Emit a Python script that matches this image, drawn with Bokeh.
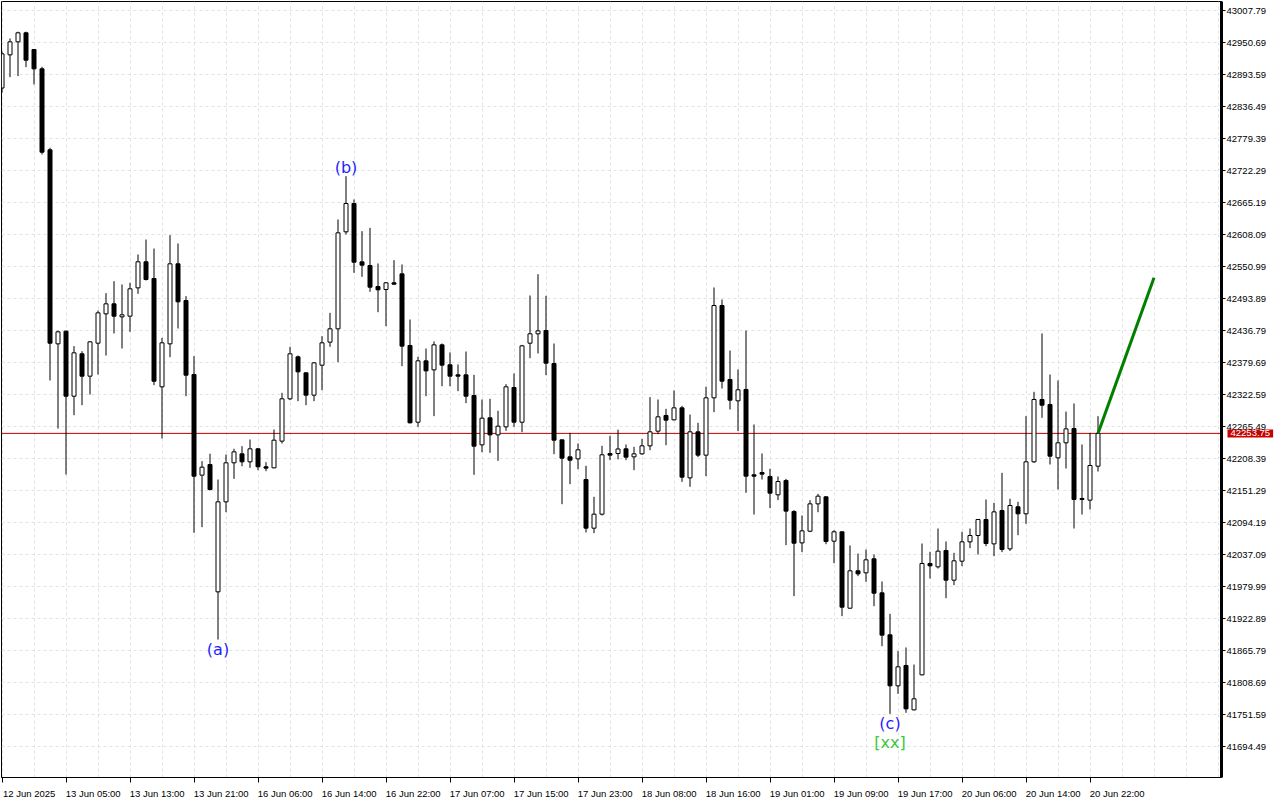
from bokeh.plotting import figure
from bokeh.models import FixedTicker, PrintfTickFormatter, Span, Label, ColumnDataSource, Range1d
from bokeh.core.properties import value
from bokeh.embed import file_html
from bokeh.resources import INLINE

# ---------------- data (H1 candles) ----------------
opens = [42870.0, 42929.2, 42952.4, 42968.5, 42938.7, 42904.2, 42759.7, 42413.5, 42436.1, 42320.1,
         42395.7, 42355.8, 42414.7, 42467.0, 42484.9, 42461.7, 42462.9, 42513.4, 42559.9, 42530.1,
         42336.8, 42413.5, 42556.3, 42490.8, 42358.8, 42179.2, 42198.2, 41971.0, 42131.6, 42201.2,
         42217.2, 42203.0, 42226.2, 42194.1, 42192.3, 42239.9, 42315.4, 42390.3, 42361.8, 42321.9,
         42375.4, 42416.5, 42440.3, 42613.4, 42663.9, 42559.8, 42553.3, 42515.8, 42510.5, 42522.4,
         42538.4, 42410.6, 42273.7, 42383.2, 42367.1, 42411.7, 42376.1, 42358.2, 42358.2, 42321.3,
         42233.3, 42281.5, 42251.1, 42265.4, 42335.6, 42273.7, 42414.7, 42431.4, 42437.3, 42378.4,
         42242.2, 42211.9, 42208.3, 42171.4, 42084.6, 42109.6, 42217.8, 42217.8, 42226.2, 42211.9,
         42217.2, 42231.5, 42257.7, 42285.7, 42277.9, 42299.3, 42174.4, 42256.5, 42214.9, 42317.2,
         42481.9, 42349.9, 42311.8, 42332.1, 42179.8, 42183.9, 42176.8, 42144.1, 42169.7, 42114.4,
         42058.4, 42079.2, 42128.0, 42140.5, 42061.4, 42078.1, 41941.8, 42008.5, 42004.9, 42029.9,
         41969.2, 41894.3, 41803.3, 41839.6, 41760.4, 41822.9, 42021.6, 42015.6, 42044.8, 41991.8,
         42025.7, 42060.2, 42071.5, 42100.1, 42056.6, 42116.1, 42047.7, 42122.7, 42110.2, 42203.0,
         42314.2, 42305.3, 42210.1, 42236.9, 42262.4, 42137.6, 42134.6, 42195.2]
highs = [42935.0, 42958.4, 42970.5, 42970.5, 42939.5, 42907.8, 42763.3, 42437.3, 42437.3, 42409.4,
         42400.4, 42418.0, 42473.0, 42504.0, 42525.3, 42519.4, 42522.4, 42573.0, 42599.7, 42583.6,
         42424.2, 42607.4, 42592.6, 42498.6, 42391.5, 42204.2, 42217.5, 42171.4, 42216.0, 42226.2,
         42230.9, 42242.8, 42227.5, 42202.4, 42260.7, 42326.1, 42408.2, 42392.7, 42362.5, 42380.5,
         42427.2, 42468.8, 42635.4, 42712.7, 42671.1, 42614.6, 42620.5, 42556.9, 42523.6, 42562.8,
         42555.1, 42456.9, 42390.3, 42405.2, 42417.7, 42414.1, 42398.1, 42376.7, 42399.8, 42358.2,
         42314.2, 42315.4, 42294.0, 42341.6, 42360.6, 42411.7, 42499.8, 42537.8, 42499.2, 42414.1,
         42243.0, 42254.7, 42235.7, 42195.8, 42140.5, 42231.5, 42249.4, 42260.4, 42233.9, 42229.7,
         42244.0, 42318.4, 42314.2, 42297.5, 42330.3, 42302.9, 42287.4, 42272.6, 42336.8, 42514.1,
         42492.6, 42401.6, 42367.7, 42437.3, 42269.6, 42217.8, 42190.5, 42176.8, 42172.6, 42116.7,
         42107.2, 42134.6, 42145.9, 42141.7, 42081.0, 42079.0, 42053.7, 42039.4, 42046.5, 42037.6,
         41989.4, 41931.7, 41865.2, 41871.7, 41841.3, 42057.2, 42042.4, 42084.0, 42060.8, 42040.6,
         42078.1, 42084.0, 42101.0, 42135.8, 42129.8, 42183.3, 42137.0, 42131.6, 42284.5, 42327.9,
         42432.0, 42358.8, 42348.1, 42292.6, 42307.1, 42233.9, 42254.7, 42284.5]
lows = [42862.0, 42889.4, 42891.2, 42907.2, 42876.3, 42751.4, 42348.1, 42262.4, 42180.3, 42286.2,
        42304.1, 42323.1, 42358.8, 42392.7, 42432.0, 42405.2, 42435.0, 42502.7, 42526.5, 42339.8,
        42244.6, 42389.7, 42440.9, 42320.1, 42076.3, 42086.4, 42151.8, 41885.9, 42113.1, 42172.6,
        42195.2, 42192.3, 42188.1, 42186.3, 42191.5, 42235.7, 42313.0, 42311.2, 42304.1, 42311.2,
        42330.8, 42408.2, 42380.8, 42608.6, 42540.2, 42533.1, 42506.3, 42470.0, 42445.1, 42518.8,
        42373.7, 42271.4, 42265.4, 42320.1, 42284.5, 42338.0, 42338.0, 42329.1, 42307.7, 42179.8,
        42220.2, 42219.0, 42204.7, 42258.3, 42265.4, 42255.9, 42387.9, 42396.3, 42357.6, 42216.6,
        42127.4, 42163.1, 42189.9, 42076.9, 42075.7, 42107.2, 42205.9, 42207.4, 42205.9, 42188.1,
        42215.5, 42223.8, 42252.3, 42232.7, 42277.0, 42167.3, 42158.4, 42211.3, 42177.4, 42291.6,
        42333.8, 42296.3, 42257.7, 42147.7, 42109.0, 42171.4, 42120.3, 42134.6, 42054.3, 41963.3,
        42041.8, 42077.5, 42113.1, 42056.0, 42022.1, 41927.6, 41941.0, 41999.0, 41988.8, 41945.4,
        41874.0, 41753.3, 41789.0, 41755.1, 41759.5, 41822.0, 41994.8, 42012.6, 41959.7, 41982.9,
        42016.8, 42048.9, 42037.6, 42052.5, 42034.6, 42041.8, 42044.0, 42072.1, 42092.4, 42201.2,
        42281.5, 42198.2, 42153.6, 42191.1, 42084.0, 42109.0, 42117.9, 42185.7]
closes = [42931.0, 42952.4, 42968.5, 42919.7, 42904.2, 42755.5, 42414.7, 42434.9, 42320.1, 42397.5,
          42355.8, 42417.1, 42468.8, 42484.9, 42462.9, 42465.3, 42511.7, 42559.9, 42528.3, 42346.9,
          42415.3, 42556.3, 42488.5, 42357.6, 42177.4, 42193.4, 42153.6, 42131.6, 42201.2, 42220.8,
          42203.0, 42226.2, 42194.1, 42191.7, 42241.6, 42315.4, 42395.7, 42363.6, 42321.9, 42379.6,
          42415.3, 42440.3, 42611.6, 42663.9, 42559.2, 42553.9, 42514.6, 42509.9, 42522.4, 42520.0,
          42409.4, 42272.6, 42383.2, 42365.3, 42411.7, 42375.5, 42355.8, 42355.8, 42320.1, 42230.9,
          42280.9, 42251.1, 42266.6, 42336.8, 42273.7, 42409.9, 42431.4, 42436.7, 42379.0, 42241.6,
          42209.5, 42205.9, 42224.4, 42084.6, 42109.6, 42215.5, 42214.9, 42225.9, 42211.3, 42217.2,
          42231.5, 42256.5, 42283.3, 42277.3, 42299.3, 42175.6, 42256.5, 42214.9, 42317.2, 42481.9,
          42346.9, 42313.0, 42331.5, 42177.4, 42177.4, 42181.0, 42147.1, 42167.9, 42115.0, 42057.8,
          42079.8, 42128.0, 42141.7, 42060.8, 42078.1, 41943.6, 42008.5, 42003.1, 42028.1, 41968.6,
          41893.7, 41803.3, 41837.2, 41762.2, 41780.1, 42021.6, 42017.4, 42043.6, 41991.8, 42026.3,
          42060.2, 42071.5, 42100.1, 42057.2, 42113.7, 42046.5, 42125.1, 42110.2, 42203.0, 42314.2,
          42304.1, 42213.1, 42236.9, 42261.8, 42135.8, 42135.8, 42196.4, 42253.75]

x_label_bars = [0, 8, 16, 24, 32, 40, 48, 56, 64, 72, 80, 88, 96, 104, 112, 120, 128, 136]
x_labels = ["12 Jun 2025", "13 Jun 05:00", "13 Jun 13:00", "13 Jun 21:00", "16 Jun 06:00",
            "16 Jun 14:00", "16 Jun 22:00", "17 Jun 07:00", "17 Jun 15:00", "17 Jun 23:00",
            "18 Jun 08:00", "18 Jun 16:00", "19 Jun 01:00", "19 Jun 09:00", "19 Jun 17:00",
            "20 Jun 06:00", "20 Jun 14:00", "20 Jun 22:00"]
y_tick_values = [41694.49, 41751.59, 41808.69, 41865.79, 41922.89, 41979.99, 42037.09, 42094.19,
                 42151.29, 42208.39, 42265.49, 42322.59, 42379.69, 42436.79, 42493.89, 42550.99,
                 42608.09, 42665.19, 42722.29, 42779.39, 42836.49, 42893.59, 42950.69, 43007.79]
current_price = 42253.75

wave_text = ["(a)", "(b)", "(c)"]
wave_bar = [27, 43, 111]
wave_price = [41868.9, 42727.6, 41736.4]
tag_text = ["[xx]"]
tag_bar = [111]
tag_price = [41702.5]

proj_bar = [137, 144]
proj_price = [42253.75, 42531.3]

# ---------------- figure ----------------
n = len(opens)
idx = list(range(n))
src = ColumnDataSource(dict(
    x=idx, high=highs, low=lows,
    top=[max(o, c) for o, c in zip(opens, closes)],
    bottom=[min(o, c) for o, c in zip(opens, closes)],
    fill=["white" if c >= o else "black" for o, c in zip(opens, closes)],
))

BAR_PX = 8.0
FRAME_W, FRAME_H = 1220, 776
x0 = -0.5 / BAR_PX
p = figure(frame_width=FRAME_W, frame_height=FRAME_H,
           x_range=Range1d(x0, x0 + FRAME_W / BAR_PX),
           y_range=Range1d(41639.70, 43024.38),
           y_axis_location="right", x_axis_location="below",
           toolbar_location=None, output_backend="svg",
           min_border_left=0, min_border_top=0, min_border_right=50, min_border_bottom=20,
           background_fill_color="white", border_fill_color="white")
p.margin = (1, 0, 0, 1)
p.outline_line_color = "black"
p.outline_line_width = 1

GRID = "#e2e2e2"
p.xgrid.ticker = FixedTicker(ticks=list(range(0, 153, 4)))
for g in (p.xgrid, p.ygrid):
    g.grid_line_color = GRID
    g.grid_line_dash = "3 3"
    g.grid_line_width = 1

TICK_FONT = "Liberation Sans"
TICK_SIZE = "9.5px"
xa = p.xaxis[0]
centers = [b + 3.4 for b in x_label_bars]
xa.ticker = FixedTicker(ticks=centers, minor_ticks=x_label_bars)
xa.major_label_overrides = {c: t for c, t in zip(centers, x_labels)}
xa.major_tick_line_color = None
xa.major_tick_out = 0
xa.major_tick_in = 0
xa.minor_tick_line_color = "black"
xa.minor_tick_out = 5
xa.minor_tick_in = 0
xa.major_label_standoff = 5
xa.axis_line_color = "black"
xa.axis_line_width = 1
xa.major_label_text_font = TICK_FONT
xa.major_label_text_font_size = TICK_SIZE
xa.major_label_text_color = "black"

ya = p.yaxis[0]
ya.ticker = FixedTicker(ticks=y_tick_values, minor_ticks=[])
ya.formatter = PrintfTickFormatter(format="%.2f")
ya.major_tick_out = 4
ya.major_tick_in = 0
ya.major_tick_line_color = "black"
ya.minor_tick_line_color = None
ya.major_label_standoff = 1
ya.axis_line_color = "black"
ya.axis_line_width = 3
ya.major_label_text_font = TICK_FONT
ya.major_label_text_font_size = TICK_SIZE
ya.major_label_text_color = "black"

# current price line (under the candles)
p.add_layout(Span(location=current_price, dimension="width", line_color="#c00000",
                  line_width=1, level="underlay"))

# candles
p.segment(x0="x", y0="low", x1="x", y1="high", source=src, line_color="black", line_width=1)
p.vbar(x="x", width=0.5, top="top", bottom="bottom", source=src,
       fill_color="fill", line_color="black", line_width=1)

# projection line
p.line(proj_bar, proj_price, line_color="#008000", line_width=3)

# wave labels
p.text(x=wave_bar, y=wave_price, text=wave_text, text_color="#1f1fff",
       text_font=value("DejaVu Sans"), text_font_size="16px",
       text_align="center", text_baseline="middle")
p.text(x=tag_bar, y=tag_price, text=tag_text, text_color="#3cc83c",
       text_font=value("DejaVu Sans"), text_font_size="16px",
       text_align="center", text_baseline="middle")

# price tag on the axis (placed in the side panel so it is not clipped to the frame)
tag_x = x0 + (FRAME_W + 6) / BAR_PX
p.add_layout(Label(x=tag_x, y=current_price, x_units="data", y_units="data",
                   text=f"{current_price:.2f}", text_color="white",
                   text_font=TICK_FONT, text_font_size=TICK_SIZE,
                   text_align="left", text_baseline="middle",
                   background_fill_color="#c80000",
                   padding=dict(left=3, right=3, top=1, bottom=1)), "right")

open("out.html", "w").write(file_html(p, INLINE))
